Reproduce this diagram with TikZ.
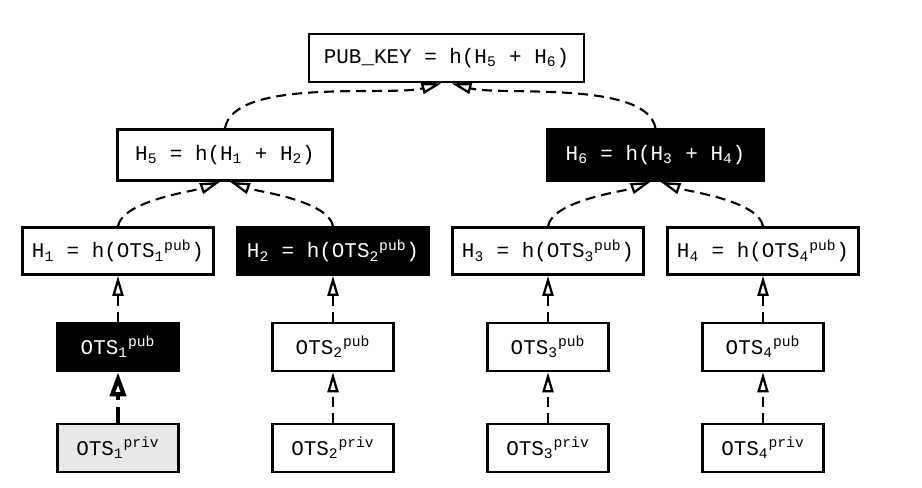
\documentclass[tikz,border=0pt]{standalone}
\usepackage{fontspec}
\setmainfont{Liberation Mono}
\usetikzlibrary{arrows.meta}

\def \colwidth {4.3}
\def \rowtop {-1.16}
\def \rowmid {-3.1}
\def \rowhash {-5.02}
\def \rowpub {-6.94}
\def \rowpriv {-8.96}
\def \tipshift {0.1cm}

\tikzset{
  hashbox/.style={draw, line width=1.5pt, inner sep=0pt, minimum height=0.96cm,
    font=\fontsize{11.9}{13}\selectfont},
  inverted/.style={fill=black, text=white},
  privgray/.style={fill=black!9},
  whitebox/.style={fill=white},
  link/.style={dash pattern=on 0.2cm off 0.12cm, line width=1.2pt,
    -{Triangle[open,length=0.4cm,width=0.22cm,line width=1.3pt]}},
  boldlink/.style={dash pattern=on 0.32cm off 0.14cm, line width=2.6pt,
    -{Triangle[open,length=0.48cm,width=0.32cm,line width=2.4pt]}},
}

\begin{document}
\begin{tikzpicture}
\useasboundingbox (0,0) rectangle (18.44,-9.76);

% Draw the root and the two inner hashes
\node[hashbox, minimum width=5.5cm] (pubkey) at (8.93,\rowtop)
  {PUB\_KEY = h(H\textsubscript{5} + H\textsubscript{6})};
\node[hashbox, minimum width=4.3cm, minimum height=1.02cm] (h5) at (4.5,\rowmid)
  {H\textsubscript{5} = h(H\textsubscript{1} + H\textsubscript{2})};
\node[hashbox, inverted, minimum width=4.34cm, minimum height=1.02cm] (h6) at (13.11,\rowmid)
  {H\textsubscript{6} = h(H\textsubscript{3} + H\textsubscript{4})};

% Draw the leaves: hash, public key and private key of each OTS
\foreach \i/\hashstyle/\pubstyle/\privstyle in
  {1/whitebox/inverted/privgray, 2/inverted/whitebox/whitebox,
   3/whitebox/whitebox/whitebox, 4/whitebox/whitebox/whitebox}
{
  \node[hashbox, \hashstyle, minimum width=3.82cm, minimum height=0.94cm] (h\i)
    at ({2.36+(\i-1)*\colwidth},\rowhash)
    {H\textsubscript{\i} = h(OTS\textsubscript{\i}\textsuperscript{pub})};
  \node[hashbox, \pubstyle, minimum width=2.42cm] (pub\i)
    at ({2.36+(\i-1)*\colwidth},\rowpub) {OTS\textsubscript{\i}\textsuperscript{pub}};
  \node[hashbox, \privstyle, minimum width=2.42cm] (priv\i)
    at ({2.36+(\i-1)*\colwidth},\rowpriv) {OTS\textsubscript{\i}\textsuperscript{priv}};
}

% Draw the links from private key up to hash
\draw[boldlink] (priv1) -- (pub1);
\foreach \i in {2,...,4}
  \draw[link] (priv\i) -- (pub\i);
\foreach \i in {1,...,4}
  \draw[link] (pub\i) -- (h\i);

% Draw the curved links into the parents
\draw[link] (h1.north) to[out=80,in=200,looseness=0.6] ([xshift=-\tipshift]h5.south);
\draw[link] (h2.north) to[out=100,in=-20,looseness=0.6] ([xshift=\tipshift]h5.south);
\draw[link] (h3.north) to[out=80,in=200,looseness=0.6] ([xshift=-\tipshift]h6.south);
\draw[link] (h4.north) to[out=100,in=-20,looseness=0.6] ([xshift=\tipshift]h6.south);
\draw[link] (h5.north) to[out=80,in=195,looseness=0.6] ([xshift=-\tipshift]pubkey.south);
\draw[link] (h6.north) to[out=100,in=-15,looseness=0.6] ([xshift=\tipshift]pubkey.south);
\end{tikzpicture}
\end{document}
